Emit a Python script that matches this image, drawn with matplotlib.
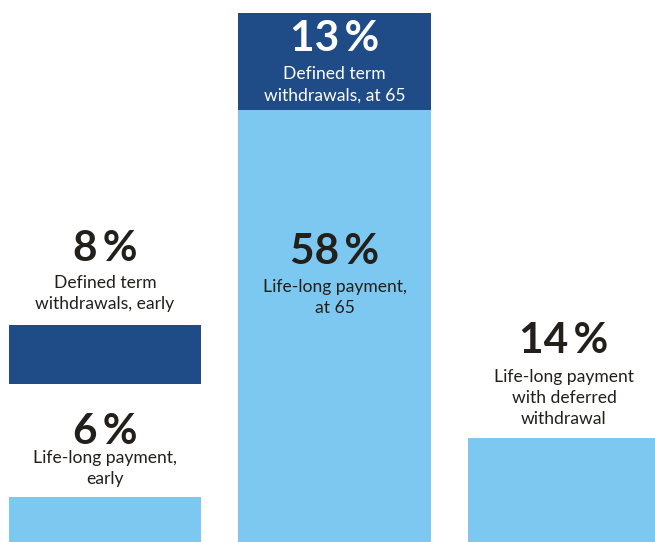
import matplotlib.pyplot as plt

# Share of retirement payout choices, in percent
positions = [0, 1, 2]
lifelong = [6, 58, 14]
defined_term = [8, 13, 0]
lifelong_labels = ["Life-long payment,\nearly", "Life-long payment,\nat 65",
                   "Life-long payment\nwith deferred\nwithdrawal"]
term_labels = ["Defined term\nwithdrawals, early", "Defined term\nwithdrawals, at 65", ""]

# Gap left open above the first bar so its labels sit between the segments
spacer = [15.2, 0, 0]

dark_blue = "#1f4b87"
light_blue = "#7cc8f0"
ink = "#231f1a"

plt.rcParams['font.family'] = ['Lato', 'DejaVu Sans']

fig = plt.figure(figsize=(6.55, 5.42), dpi=100)
ax = fig.add_axes([0, 0, 1, 1])
ax.set_xlim(-0.4575, 2.3965)
ax.set_ylim(0, 72.8)
ax.axis("off")

width = 0.84
ax.bar(positions, lifelong, width=width, color=light_blue)
bottoms = [l + s for l, s in zip(lifelong, spacer)]
ax.bar(positions, defined_term, width=width, bottom=bottoms, color=dark_blue)


def label(x, y, value, text, base_px, pct_gap, color=ink):
    # text lines drawn from the bottom up, then the big percentage above them
    lines = text.split("\n")
    off = base_px
    for line in reversed(lines):
        ax.annotate(line, (x, y), xytext=(0, off), textcoords="offset pixels",
                    ha="center", va="baseline", fontsize=12.6, color=color)
        off += 21
    off += pct_gap - 21
    ax.annotate(f"{value}\u2009%", (x, y), xytext=(0, off), textcoords="offset pixels",
                ha="center", va="baseline", fontsize=30.5, fontweight="bold", color=color)


# first bar: labels above each segment
label(positions[0], lifelong[0], lifelong[0], lifelong_labels[0], 13, 19)
label(positions[0], bottoms[0] + defined_term[0], defined_term[0], term_labels[0], 16, 27)

# second bar: labels inside the segments
label(positions[1], lifelong[1], defined_term[1], term_labels[1], 10, 28, color="white")
label(positions[1], lifelong[1], lifelong[1], lifelong_labels[1], -203, 28)

# third bar: label above
label(positions[2], lifelong[2], lifelong[2], lifelong_labels[2], 14, 29)

fig.savefig("out.png", dpi=100)
